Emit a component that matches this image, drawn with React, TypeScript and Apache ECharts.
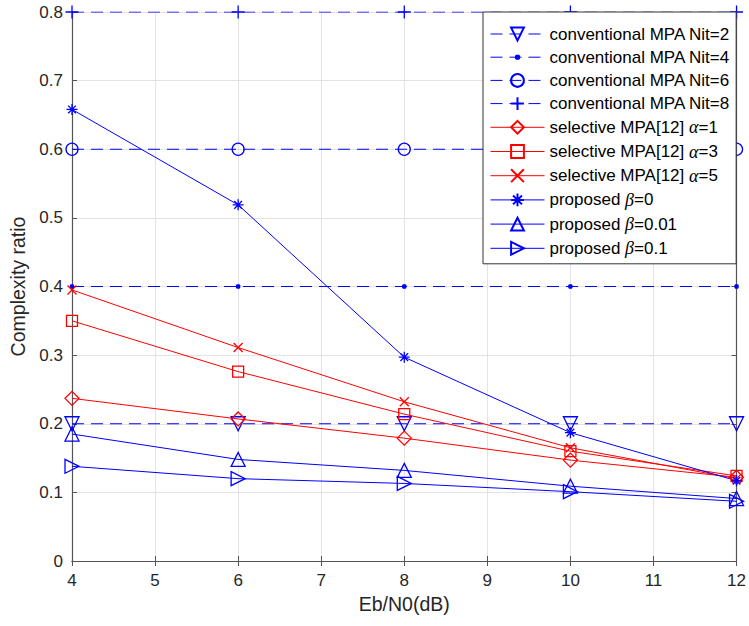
import React, { useEffect, useRef } from "react";
import * as echarts from "echarts";

// Eb/N0 sample points (dB)
const ebn0 = [4, 6, 8, 10, 12];

// conventional MPA: fixed complexity per iteration count
const convNit2 = [0.2, 0.2, 0.2, 0.2, 0.2];
const convNit4 = [0.4, 0.4, 0.4, 0.4, 0.4];
const convNit6 = [0.6, 0.6, 0.6, 0.6, 0.6];
const convNit8 = [0.8, 0.8, 0.8, 0.8, 0.8];

// selective MPA [12]
const selAlpha1 = [0.237, 0.207, 0.179, 0.147, 0.122];
const selAlpha3 = [0.35, 0.276, 0.214, 0.16, 0.124];
const selAlpha5 = [0.395, 0.311, 0.232, 0.165, 0.12];

// proposed scheme
const propBeta0 = [0.658, 0.519, 0.297, 0.187, 0.117];
const propBeta001 = [0.185, 0.148, 0.132, 0.109, 0.091];
const propBeta01 = [0.138, 0.12, 0.113, 0.101, 0.087];

const BLUE = "#0000ff";
const RED = "#ff0000";
const FONT = "'Liberation Sans', Arial, sans-serif";

const SYM = {
  triDown: "path://M0,0 L10,0 L5,10 Z",
  triUp: "path://M5,0 L10,10 L0,10 Z",
  triRight: "path://M0,0 L10,5 L0,10 Z",
  diamond: "path://M5,0 L10,5 L5,10 L0,5 Z",
  square: "path://M0,0 L10,0 L10,10 L0,10 Z",
  plus: "path://M5,0 L5,10 M0,5 L10,5",
  cross: "path://M0,0 L10,10 M0,10 L10,0",
  star: "path://M5,0 L5,10 M0,5 L10,5 M1.5,1.5 L8.5,8.5 M1.5,8.5 L8.5,1.5",
  // small point marker centred in a 12x12 frame so it stays small in the legend too
  dot: "path://M0,0 M12,12 M5,4.6 L7,4.6 L7.4,5 L7.4,7 L7,7.4 L5,7.4 L4.6,7 L4.6,5 Z",
};

function mk(
  name: string,
  values: number[],
  color: string,
  symbol: string,
  symbolSize: number,
  dashed: boolean,
  filled = false
) {
  return {
    name,
    type: "line",
    data: ebn0.map((x, i) => [x, values[i]]),
    symbol,
    symbolSize,
    showAllSymbol: true,
    lineStyle: { color, width: 1, type: dashed ? [12, 7] : "solid" },
    itemStyle: {
      color: filled ? color : "transparent",
      borderColor: color,
      borderWidth: 1.3,
    },
    emphasis: { disabled: true },
    z: 3,
  };
}

export default function App() {
  const ref = useRef<HTMLDivElement>(null);

  useEffect(() => {
    if (!ref.current) return;
    const chart = echarts.init(ref.current, undefined, { renderer: "svg" });

    const axisLine = { show: true, lineStyle: { color: "#555", width: 1.2 } };
    const tick = { show: true, inside: true, length: 5, lineStyle: { color: "#555" } };
    const labelStyle = { color: "#262626", fontSize: 17, fontFamily: FONT };
    const nameStyle = { color: "#262626", fontSize: 19.5, fontFamily: FONT };

    chart.setOption({
      animation: false,
      backgroundColor: "#fff",
      grid: { left: 72, right: 12, top: 12, bottom: 65, containLabel: false },
      xAxis: [
        {
          type: "value",
          min: 4,
          max: 12,
          interval: 1,
          name: "Eb/N0(dB)",
          nameLocation: "middle",
          nameGap: 32,
          nameTextStyle: nameStyle,
          axisLine,
          axisTick: tick,
          axisLabel: { ...labelStyle, margin: 11 },
          splitLine: { show: true, lineStyle: { color: "#e3e3e3", width: 1 } },
        },
        {
          type: "value",
          position: "top",
          min: 4,
          max: 12,
          interval: 1,
          axisLine,
          axisTick: tick,
          axisLabel: { show: false },
          splitLine: { show: false },
        },
      ],
      yAxis: [
        {
          type: "value",
          min: 0,
          max: 0.8,
          interval: 0.1,
          name: "Complexity ratio",
          nameLocation: "middle",
          nameGap: 43,
          nameTextStyle: nameStyle,
          axisLine,
          axisTick: tick,
          axisLabel: {
            ...labelStyle,
            margin: 9,
            formatter: (v: number) => (v === 0 ? "0" : v.toFixed(1)),
          },
          splitLine: { show: true, lineStyle: { color: "#e3e3e3", width: 1 } },
        },
        {
          type: "value",
          position: "right",
          min: 0,
          max: 0.8,
          interval: 0.1,
          axisLine,
          axisTick: tick,
          axisLabel: { show: false },
          splitLine: { show: false },
        },
      ],
      legend: {
        orient: "vertical",
        left: 483,
        top: 12,
        padding: [13.5, 6, 6.5, 7],
        itemWidth: 54,
        itemHeight: 16,
        itemGap: 6.2,
        backgroundColor: "#fff",
        borderColor: "#333",
        borderWidth: 1,
        borderRadius: 0,
        selectedMode: false,
        lineStyle: { width: 1 },
        textStyle: {
          color: "#000",
          fontSize: 17,
          lineHeight: 17,
          fontFamily: FONT,
          rich: {
            g: {
              fontSize: 18,
              lineHeight: 17,
              fontStyle: "italic",
              fontFamily: "'Liberation Serif', 'DejaVu Serif', serif",
              color: "#000",
            },
          },
        },
        formatter: (name: string) => name.replace(/([αβ])/g, "{g|$1}"),
      },
      series: [
        mk("conventional MPA Nit=2", convNit2, BLUE, SYM.triDown, 14, true),
        mk("conventional MPA Nit=4", convNit4, BLUE, SYM.dot, 13, true, true),
        mk("conventional MPA Nit=6", convNit6, BLUE, "circle", 12, true),
        mk("conventional MPA Nit=8", convNit8, BLUE, SYM.plus, 13, true),
        mk("selective MPA[12] α=1", selAlpha1, RED, SYM.diamond, 14, false),
        mk("selective MPA[12] α=3", selAlpha3, RED, SYM.square, 11, false),
        mk("selective MPA[12] α=5", selAlpha5, RED, SYM.cross, 9, false),
        mk("proposed β=0", propBeta0, BLUE, SYM.star, 11, false),
        mk("proposed β=0.01", propBeta001, BLUE, SYM.triUp, 14, false),
        mk("proposed β=0.1", propBeta01, BLUE, SYM.triRight, 14, false),
      ],
    });

    return () => chart.dispose();
  }, []);

  return <div ref={ref} style={{ width: 749, height: 626, position: "absolute", left: 0, top: 0 }} />;
}
